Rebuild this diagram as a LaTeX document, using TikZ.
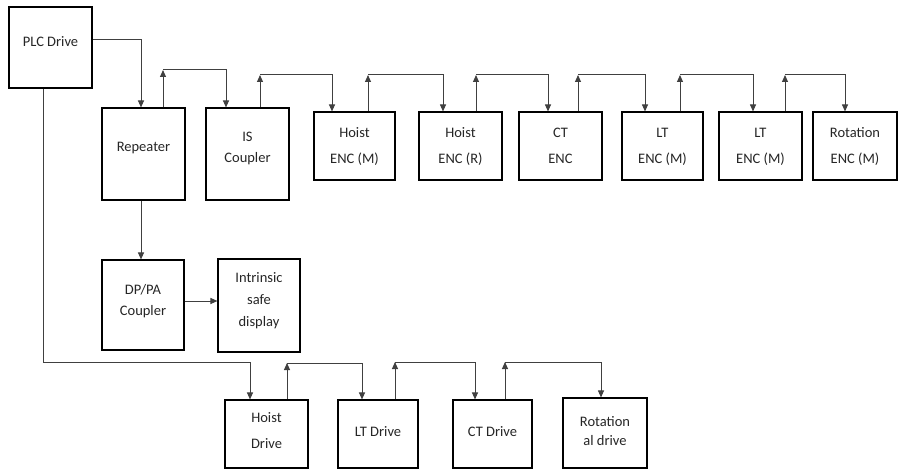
\documentclass[tikz,border=0pt]{standalone}
\usepackage{fontspec}
\setmainfont{Carlito}
\usetikzlibrary{arrows.meta}
\newcommand\boxtxt[3]{\raisebox{#1}[\height][\depth]{\fontsize{14.5}{#2}\selectfont\begin{tabular}{@{}c@{}}#3\end{tabular}}}
\begin{document}
\begin{tikzpicture}[x=1pt,y=-1pt,
  blk/.style={draw=black,line width=1.1pt,fill=white,inner sep=0pt,align=center,
    font=\fontsize{14.5}{21}\selectfont,text=black!85},
  wire/.style={draw=black!75,line width=1pt},
  arr/.style={wire,-{Triangle[width=6pt,length=7pt]}}]
\useasboundingbox (0,0) rectangle (899,470);
% boxes
\node[blk,minimum width=83pt,minimum height=81pt] (plc) at (50.5,47.5) {\boxtxt{5.5pt}{21pt}{PLC Drive}};
\node[blk,minimum width=83pt,minimum height=92pt] (rep) at (143.5,154) {\boxtxt{7pt}{21pt}{Repeater}};
\node[blk,minimum width=83pt,minimum height=92pt] (isc) at (247.5,154) {\boxtxt{6.5pt}{21pt}{IS\\Coupler}};
\node[blk,minimum width=81pt,minimum height=68pt] (hem) at (354.5,146) {\boxtxt{1pt}{26pt}{Hoist\\ENC (M)}};
\node[blk,minimum width=83pt,minimum height=68pt] (her) at (460.5,146) {\boxtxt{1pt}{26pt}{Hoist\\ENC (R)}};
\node[blk,minimum width=83pt,minimum height=68pt] (cte) at (560.5,146) {\boxtxt{1pt}{26pt}{CT\\ENC}};
\node[blk,minimum width=81pt,minimum height=68pt] (lte1) at (662.5,146) {\boxtxt{1pt}{26pt}{LT\\ENC (M)}};
\node[blk,minimum width=83pt,minimum height=68pt] (lte2) at (760.5,146) {\boxtxt{1pt}{26pt}{LT\\ENC (M)}};
\node[blk,minimum width=84pt,minimum height=68pt] (roe) at (855,146) {\boxtxt{1pt}{26pt}{Rotation\\ENC (M)}};
\node[blk,minimum width=82pt,minimum height=90pt] (dpp) at (143,305) {\boxtxt{4.5pt}{21pt}{DP/PA\\Coupler}};
\node[blk,minimum width=82pt,minimum height=93pt] (isd) at (259,305.5) {\boxtxt{5.5pt}{22pt}{Intrinsic\\safe\\display}};
\node[blk,minimum width=83pt,minimum height=68pt] (hd) at (266.5,434) {\boxtxt{4pt}{26pt}{Hoist\\Drive}};
\node[blk,minimum width=80pt,minimum height=68pt] (ltd) at (378,434) {\boxtxt{2pt}{21pt}{LT Drive}};
\node[blk,minimum width=79pt,minimum height=68pt] (ctd) at (492.5,434) {\boxtxt{2pt}{21pt}{CT Drive}};
\node[blk,minimum width=84pt,minimum height=70pt] (rtd) at (605,433) {\boxtxt{0.5pt}{19pt}{Rotation\\al drive}};
% corners
\coordinate (c0) at (141,40);
\coordinate (c1) at (163,70);
\coordinate (c2) at (260,75);
\coordinate (c3) at (368,75);
\coordinate (c4) at (476,75);
\coordinate (c5) at (578,75);
\coordinate (c6) at (680,75);
\coordinate (c7) at (785,75);
\coordinate (d0) at (43,362);
\coordinate (d1) at (287,363);
\coordinate (d2) at (395,362);
\coordinate (d3) at (505,362);
% PLC -> repeater
\draw[arr] (plc.east |- c0) -| ([xshift=-2.5pt]rep.north);
% repeater -> IS coupler
\draw[arr] (c1 |- rep.north) -- (c1);
\draw[arr] (c1) -| ([xshift=-21.5pt]isc.north);
% IS coupler -> encoders chain
\draw[arr] (c2 |- isc.north) -- (c2);
\draw[arr] (c2) -| ([xshift=-22.5pt]hem.north);
\draw[arr] (c3 |- hem.north) -- (c3);
\draw[arr] (c3) -| ([xshift=-17.5pt]her.north);
\draw[arr] (c4 |- her.north) -- (c4);
\draw[arr] (c4) -| ([xshift=-12.5pt]cte.north);
\draw[arr] (c5 |- cte.north) -- (c5);
\draw[arr] (c5) -| ([xshift=-17.5pt]lte1.north);
\draw[arr] (c6 |- lte1.north) -- (c6);
\draw[arr] (c6) -| ([xshift=-7.5pt]lte2.north);
\draw[arr] (c7 |- lte2.north) -- (c7);
\draw[arr] (c7) -| ([xshift=-10pt]roe.north);
% repeater -> DP/PA -> display
\draw[arr] ([xshift=-2.5pt]rep.south) -- ([xshift=-2pt]dpp.north);
\draw[arr] (dpp.east |- 0,301) -- (isd.west |- 0,301);
% PLC -> drives chain
\draw[arr] (plc.south -| d0) -- (d0) -| ([xshift=-16.5pt]hd.north);
\draw[arr] (d1 |- hd.north) -- (d1);
\draw[arr] (d1) -| ([xshift=-16pt]ltd.north);
\draw[arr] (d2 |- ltd.north) -- (d2);
\draw[arr] (d2) -| ([xshift=-17.5pt]ctd.north);
\draw[arr] (d3 |- ctd.north) -- (d3);
\draw[arr] (d3) -| ([xshift=-4pt]rtd.north);
\end{tikzpicture}
\end{document}
